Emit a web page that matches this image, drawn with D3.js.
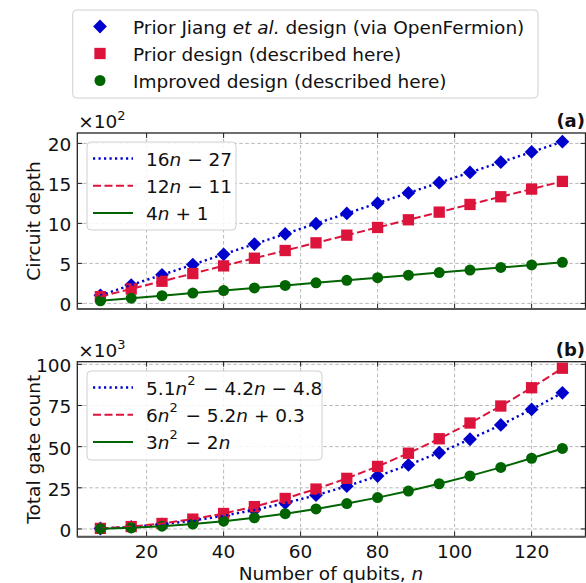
<!DOCTYPE html>
<html><head><meta charset="utf-8">
<script src="https://cdn.jsdelivr.net/npm/d3@7"></script>
<style>body{margin:0;background:#fff}svg{display:block}text{font-family:"DejaVu Sans",sans-serif;fill:#111}</style>
</head><body><svg id="c" width="586" height="583"></svg>
<script>
const qubits = [8,16,24,32,40,48,56,64,72,80,88,96,104,112,120,128];
const depthJiang = [101,229,357,485,613,741,869,997,1125,1253,1381,1509,1637,1765,1893,2021];
const depthPrior = [85,181,277,373,469,565,661,757,853,949,1045,1141,1237,1333,1429,1525];
const depthImproved = [33,65,97,129,161,193,225,257,289,321,353,385,417,449,481,513];
const gatesJiang = [290,1230,2830,5080,7980,11500,15700,20500,26000,32100,38900,46300,54500,63200,72600,82700];
const gatesPrior = [343,1453,3331,5978,9392,13574,18525,24243,30730,37984,46007,54797,64356,74682,85776,97638];
const gatesImproved = [176,736,1680,3008,4720,6816,9296,12160,15408,19040,23056,27456,32240,37408,42960,48896];
const xTicks = [20,40,60,80,100,120];
const depthTicks = [0,500,1000,1500,2000];
const gateTicks = [0,25000,50000,75000,100000];
const seriesNames = ["Prior Jiang |et al.| design (via OpenFermion)","Prior design (described here)","Improved design (described here)"];
const depthFits = [["16","n"," − 27"],["12","n"," − 11"],["4","n"," + 1"]];
const gateFits = [["5.1","n2"," − 4.2","n"," − 4.8"],["6","n2"," − 5.2","n"," + 0.3"],["3","n2"," − 2","n"]];

const colors = ["#0000cd","#dc143c","#006400"];
const dashes = ["2.2,3.3","8,3.5",null];
const lineW = [2.4,2,2];
const shapes = [d3.symbolSquare, d3.symbolSquare, d3.symbolCircle];
const rot = [45,0,0];
const msize = [95,128,95];

const svg = d3.select("#c");
const FS = 18.5;
const x = d3.scaleLinear().domain([2,134]).range([77.3,585.5]);

function fitText(g, parts){
  const t = g.append("text").attr("font-size",FS).attr("dominant-baseline","central");
  parts.forEach(p=>{
    if(p==="n"){ t.append("tspan").attr("font-style","italic").text("n"); }
    else if(p==="n2"){ t.append("tspan").attr("font-style","italic").text("n");
      t.append("tspan").attr("font-size",FS*0.7).attr("dy",-7.5).text("2");
      t.append("tspan").attr("dy",7.5).text("\u200a"); }
    else t.append("tspan").text(p);
  });
  return t;
}

function marker(sel,i){
  return sel.attr("d",d3.symbol(shapes[i],msize[i])).attr("fill",colors[i]);
}

function panel(cfg){
  const y = d3.scaleLinear().domain(cfg.ydom).range([cfg.y1,cfg.y0]);
  const g = svg.append("g");
  const x0=x.range()[0], x1=x.range()[1];
  g.selectAll(".gx").data(xTicks).join("line").attr("x1",d=>x(d)).attr("x2",d=>x(d))
    .attr("y1",cfg.y0).attr("y2",cfg.y1).attr("stroke","#b0b0b0").attr("stroke-width",0.9).attr("stroke-dasharray","3.5,2.5");
  g.selectAll(".gy").data(cfg.ticks).join("line").attr("y1",d=>y(d)).attr("y2",d=>y(d))
    .attr("x1",x0).attr("x2",x1).attr("stroke","#b0b0b0").attr("stroke-width",0.9).attr("stroke-dasharray","3.5,2.5");
  const line = d3.line().x(d=>x(d[0])).y(d=>y(d[1]));
  cfg.series.forEach((s,i)=>{
    const pts = qubits.map((q,k)=>[q,s[k]]);
    marker(g.selectAll(null).data(pts).join("path"),i)
      .attr("transform",d=>`translate(${x(d[0])},${y(d[1])}) rotate(${rot[i]})`);
  });
  cfg.series.forEach((s,i)=>{
    const pts = qubits.map((q,k)=>[q,s[k]]);
    g.append("path").attr("d",line(pts)).attr("fill","none").attr("stroke",colors[i])
      .attr("stroke-width",lineW[i]).attr("stroke-dasharray",dashes[i]);
  });
  const tl=5;
  xTicks.forEach(t=>{
    g.append("line").attr("x1",x(t)).attr("x2",x(t)).attr("y1",cfg.y1).attr("y2",cfg.y1-tl).attr("stroke","#222");
    g.append("line").attr("x1",x(t)).attr("x2",x(t)).attr("y1",cfg.y0).attr("y2",cfg.y0+tl).attr("stroke","#222");
  });
  cfg.ticks.forEach(t=>{
    g.append("line").attr("x1",x0).attr("x2",x0+tl).attr("y1",y(t)).attr("y2",y(t)).attr("stroke","#222");
    g.append("line").attr("x1",x1).attr("x2",x1-tl).attr("y1",y(t)).attr("y2",y(t)).attr("stroke","#222");
    g.append("text").attr("x",x0-6).attr("y",y(t)+1.5).attr("text-anchor","end").attr("dominant-baseline","central")
      .attr("font-size",FS).text(t/cfg.div);
  });
  g.append("rect").attr("x",x0).attr("y",cfg.y0).attr("width",x1-x0).attr("height",cfg.y1-cfg.y0)
    .attr("fill","none").attr("stroke","#222").attr("stroke-width",1.3);
  g.append("line").attr("x1",x0).attr("x2",x1).attr("y1",cfg.y1).attr("y2",cfg.y1).attr("stroke","#555").attr("stroke-width",2);
  const m = g.append("text").attr("x",x0+1).attr("y",cfg.y0-5).attr("font-size",FS);
  m.append("tspan").text("×10");
  m.append("tspan").attr("font-size",FS*0.7).attr("dy",-8).text(cfg.exp);
  g.append("text").attr("x",585).attr("y",cfg.y0-6).attr("text-anchor","end").attr("font-size",18)
    .attr("font-weight","bold").text(cfg.label);
  g.append("text").attr("transform",`translate(33,${(cfg.y0+cfg.y1)/2}) rotate(-90)`).attr("text-anchor","middle")
    .attr("dominant-baseline","central").attr("font-size",FS).text(cfg.ylabel);
  const L = cfg.leg;
  g.append("rect").attr("x",L.x).attr("y",L.y).attr("width",L.w).attr("height",L.h).attr("rx",4)
    .attr("fill","#fff").attr("fill-opacity",0.85).attr("stroke","#d0d0d0").attr("stroke-width",1);
  cfg.fits.forEach((f,i)=>{
    const yy = L.y+16.5+i*27.2;
    g.append("line").attr("x1",L.x+6).attr("x2",L.x+46).attr("y1",yy).attr("y2",yy).attr("stroke",colors[i])
      .attr("stroke-width",lineW[i]).attr("stroke-dasharray",dashes[i]);
    fitText(g,f).attr("x",L.x+59).attr("y",yy);
  });
}

panel({y0:133,y1:309,ydom:[-70,2130],ticks:depthTicks,div:100,exp:"2",label:"(a)",ylabel:"Circuit depth",
  series:[depthJiang,depthPrior,depthImproved],fits:depthFits,leg:{x:87,y:142,w:149,h:88}});
panel({y0:361.7,y1:536.7,ydom:[-4700,101600],ticks:gateTicks,div:1000,exp:"3",label:"(b)",ylabel:"Total gate count",
  series:[gatesJiang,gatesPrior,gatesImproved],fits:gateFits,leg:{x:87,y:371,w:235,h:89}});

svg.selectAll(".xl").data(xTicks).join("text").attr("x",d=>x(d)).attr("y",551).attr("text-anchor","middle")
  .attr("dominant-baseline","central").attr("font-size",FS).text(d=>d);
const xl = svg.append("text").attr("x",331).attr("y",573).attr("text-anchor","middle").attr("dominant-baseline","central").attr("font-size",FS);
xl.append("tspan").text("Number of qubits, ");
xl.append("tspan").attr("font-style","italic").text("n");

svg.append("rect").attr("x",72.7).attr("y",10).attr("width",465.3).attr("height",88).attr("rx",4)
  .attr("fill","#fff").attr("stroke","#d0d0d0");
seriesNames.forEach((nm,i)=>{
  const yy = 26.5+i*27;
  marker(svg.append("path"),i).attr("transform",`translate(100,${yy}) rotate(${rot[i]})`);
  const t = svg.append("text").attr("x",133).attr("y",yy).attr("dominant-baseline","central").attr("font-size",FS);
  nm.split("|").forEach((p,k)=>{ t.append("tspan").attr("font-style",k===1?"italic":"normal").text(p); });
});
</script></body></html>
